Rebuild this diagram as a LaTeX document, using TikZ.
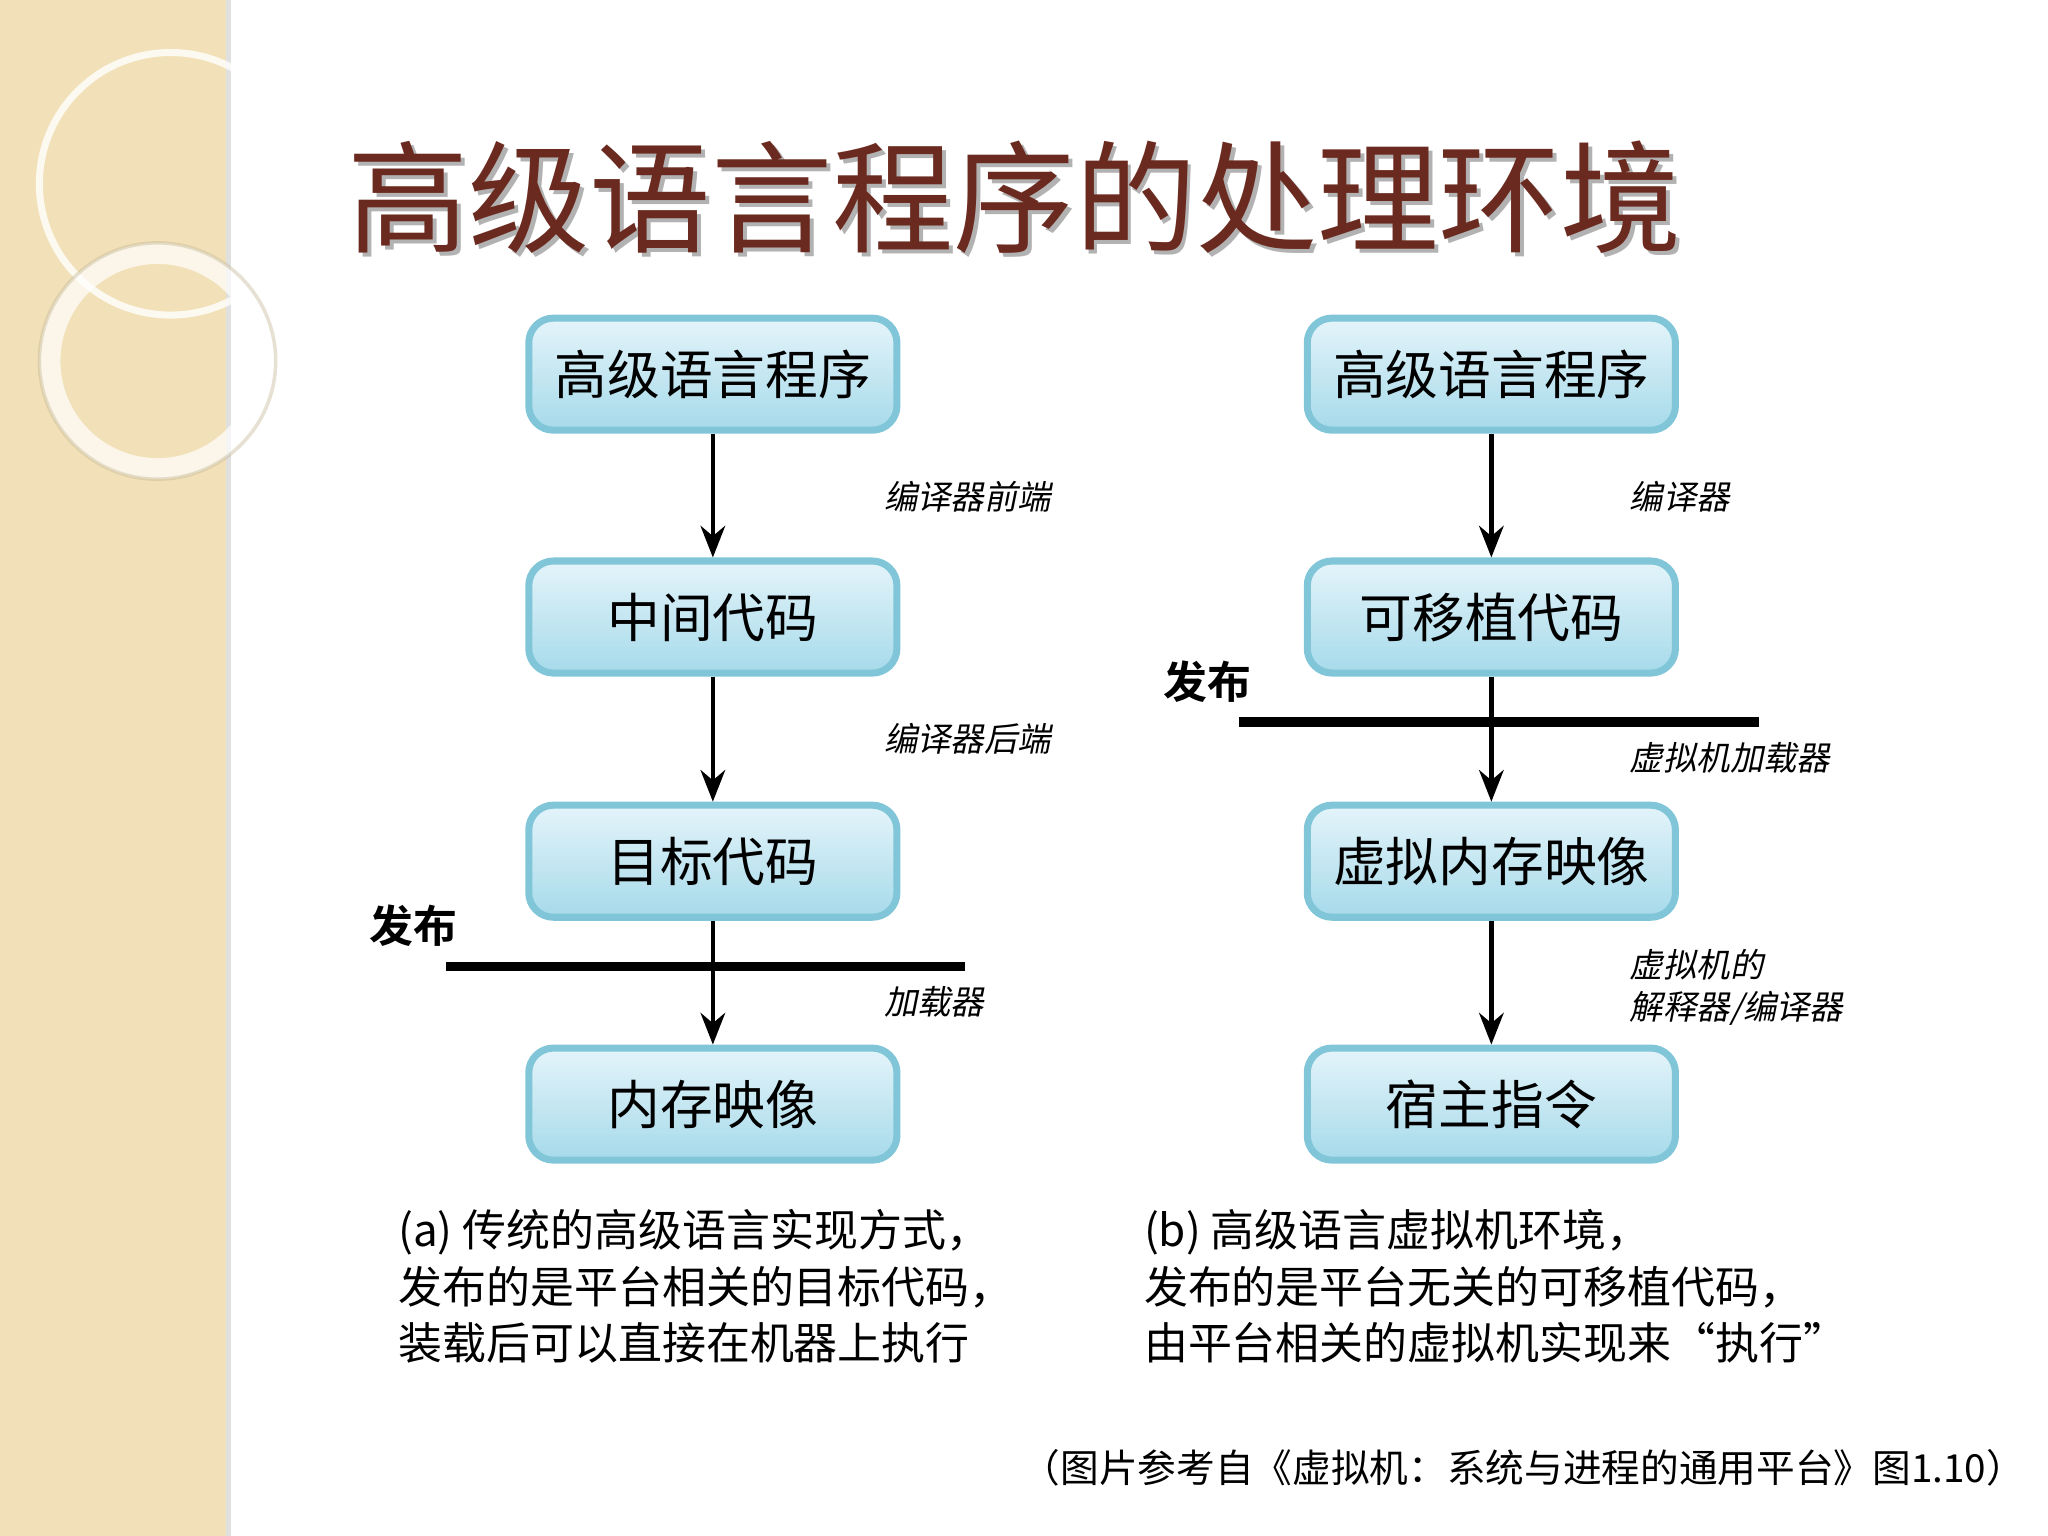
\documentclass[tikz,border=0pt]{standalone}
\usepackage{fontspec}
\newfontfamily\cjk{Noto Sans CJK SC}
\newfontfamily\cjkit[FakeSlant=0.2]{Noto Sans CJK SC}
\newfontfamily\cjkb[BoldFont={Noto Sans CJK SC Bold}]{Noto Sans CJK SC}
\usetikzlibrary{arrows.meta}
\definecolor{titlec}{HTML}{6B2A1F}
\definecolor{boxtop}{HTML}{E4F4FA}
\definecolor{boxbot}{HTML}{A6DAEA}
\definecolor{boxedge}{HTML}{80C6D8}
\definecolor{stripe}{HTML}{F2E1B8}
\tikzset{
  box/.style={draw=boxedge,line width=2pt,rounded corners=7pt,top color=boxtop,bottom color=boxbot,
    minimum width=3.68cm,minimum height=1.12cm,font=\cjk\fontsize{15}{18}\selectfont},
  arr/.style={-{Stealth[length=9pt,width=7pt]},line width=1.3pt},
  lab/.style={font=\cjkit\fontsize{9.5}{12}\selectfont,anchor=west,align=left},
  fabu/.style={font=\cjkb\bfseries\fontsize{12.5}{15}\selectfont},
  bar/.style={line width=2.6pt},
  captxt/.style={font=\cjk\fontsize{12.5}{16}\selectfont,anchor=north west,align=left},
  titletxt/.style={font=\cjk\fontsize{34.5}{40}\selectfont,anchor=west}
}
\begin{document}
\begin{tikzpicture}[x=0.013128cm,y=-0.013128cm]
\useasboundingbox (0,0) rectangle (1560,1170);
\fill[white] (0,0) rectangle (1560,1170);
\fill[stripe] (0,0) rectangle (172,1170);
\fill[black!12] (172,0) rectangle (176,1170);
\draw[white,line width=2pt,opacity=0.8] (130,140) circle (100);
\draw[white,line width=6pt,opacity=0.7] (120,275) circle (82);
\draw[stripe!80!black,line width=1pt,opacity=0.4] (120,275) circle (90);
\node[titletxt,text=black!30] (titles) at (258,153) {高级语言程序的处理环境};
\node[titletxt,text=titlec] (title) at (255,150) {高级语言程序的处理环境};
% left column
\node[box] (a1) at (543,285) {高级语言程序};
\node[box] (a2) at (543,470) {中间代码};
\node[box] (a3) at (543,656) {目标代码};
\node[box] (a4) at (543,841) {内存映像};
\draw[arr] (a1) -- (a2);
\draw[arr] (a2) -- (a3);
\draw[arr] (a3) -- (a4);
\node[lab] (la1) at (664,378) {编译器前端};
\node[lab] (la2) at (664,563) {编译器后端};
\node[lab] (la3) at (664,763) {加载器};
\coordinate (lb1) at (340,736); \coordinate (lb2) at (735,736);
\draw[bar] (lb1) -- (lb2);
\node[fabu] (f1) at (315,705) {发布};
% right column
\node[box] (b1) at (1136,285) {高级语言程序};
\node[box] (b2) at (1136,470) {可移植代码};
\node[box] (b3) at (1136,656) {虚拟内存映像};
\node[box] (b4) at (1136,841) {宿主指令};
\draw[arr] (b1) -- (b2);
\draw[arr] (b2) -- (b3);
\draw[arr] (b3) -- (b4);
\node[lab] (lc1) at (1232,378) {编译器};
\node[lab] (lc2) at (1232,577) {虚拟机加载器};
\node[lab] (lc3) at (1232,752) {虚拟机的\\解释器/编译器};
\coordinate (rb1) at (944,550); \coordinate (rb2) at (1340,550);
\draw[bar] (rb1) -- (rb2);
\node[fabu] (f2) at (920,519) {发布};
% captions
\node[captxt] (ca) at (294,912) {(a) 传统的高级语言实现方式，\\发布的是平台相关的目标代码，\\装载后可以直接在机器上执行};
\node[captxt] (cb) at (862,912) {(b) 高级语言虚拟机环境，\\发布的是平台无关的可移植代码，\\由平台相关的虚拟机实现来“执行”};
\node[font=\cjk\fontsize{11}{14}\selectfont,anchor=east] (cite) at (1552,1118) {（图片参考自《虚拟机：系统与进程的通用平台》图1.10）};
\end{tikzpicture}
\end{document}
